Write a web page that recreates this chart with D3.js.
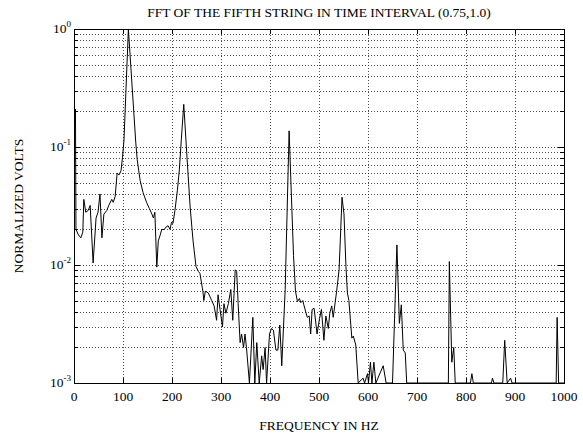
<!DOCTYPE html>
<html>
<head>
<meta charset="UTF-8">
<title>FFT of the fifth string</title>
<script src="https://cdn.jsdelivr.net/npm/d3@7"></script>
<style>
  body { margin: 0; background: #fff; }
  text { font-family: "Liberation Serif", "Times New Roman", serif; fill: #000; }
</style>
</head>
<body>
<div id="app"></div>
<script>
// frequency (Hz) and normalized amplitude; values below 1e-3 sit on the floor
var freq = [3, 4, 9, 14, 18, 20, 24, 29, 33, 39, 45, 49, 53, 57, 61, 67, 71, 77, 80, 84, 88, 92, 96, 99, 102,
  111, 126, 129, 135, 141, 148, 154, 159, 162, 165, 169, 172, 176, 179, 184, 188, 192, 196, 199, 202, 206, 211, 215, 219,
  224, 230, 237, 243, 249, 254, 257, 263, 265, 268, 274, 281, 286, 291, 294, 298, 303, 306, 310, 315, 320, 324, 329, 332, 335,
  339, 342, 346, 349, 352, 358, 365, 369, 373, 378, 383, 386, 390, 393, 399, 403, 407, 412, 416, 420, 424, 431,
  439, 448, 452, 456, 460, 463, 467, 469, 473, 476, 480, 483, 486, 490, 494, 496, 501, 505, 510, 514, 519, 522, 526, 529,
  536, 541, 547, 551, 555, 558, 561, 567, 570, 575, 580, 590, 593, 599, 601, 605, 608, 612, 616, 631, 637, 650,
  659, 664, 668, 672, 676, 679, 764, 766, 771, 775, 778, 809, 812, 815, 852, 854, 857, 875, 879, 884, 891, 894,
  984, 986, 989, 1000];
var volts = [0.21, 0.02, 0.018, 0.017, 0.019, 0.036, 0.028, 0.029, 0.032, 0.0104, 0.025, 0.028, 0.040, 0.017, 0.027, 0.029, 0.032, 0.036, 0.034, 0.038, 0.060, 0.058, 0.063, 0.082, 0.114,
  1.0, 0.11, 0.078, 0.052, 0.041, 0.034, 0.030, 0.027, 0.025, 0.028, 0.0096, 0.016, 0.018, 0.020, 0.020, 0.021, 0.0215, 0.020, 0.023, 0.0225, 0.029, 0.043, 0.064, 0.115,
  0.23, 0.09, 0.031, 0.016, 0.0097, 0.0088, 0.0085, 0.006, 0.005, 0.006, 0.0058, 0.005, 0.0045, 0.0034, 0.0056, 0.0042, 0.003, 0.0047, 0.0039, 0.0047, 0.0062, 0.0034, 0.0091, 0.0088, 0.0047,
  0.0022, 0.0026, 0.0020, 0.0026, 0.0020, 0.0008, 0.0036, 0.0008, 0.0022, 0.0008, 0.0017, 0.0013, 0.0020, 0.0008, 0.0026, 0.0029, 0.0028, 0.0019, 0.0019, 0.0031, 0.0014, 0.0062,
  0.137, 0.012, 0.0060, 0.0049, 0.0052, 0.0048, 0.0050, 0.0046, 0.0040, 0.0036, 0.0037, 0.0026, 0.0042, 0.0043, 0.0031, 0.0026, 0.0035, 0.0042, 0.0023, 0.0037, 0.0029, 0.0039, 0.0045, 0.0036,
  0.0060, 0.0091, 0.0375, 0.027, 0.0097, 0.0058, 0.0050, 0.0024, 0.0025, 0.0021, 0.0008, 0.0011, 0.0008, 0.0012, 0.0008, 0.0015, 0.0008, 0.0015, 0.0008, 0.0014, 0.0008, 0.0008,
  0.0148, 0.0032, 0.0046, 0.0019, 0.0018, 0.0008, 0.0008, 0.0107, 0.0015, 0.0020, 0.0008, 0.0008, 0.0012, 0.0008, 0.0008, 0.0011, 0.0008, 0.0008, 0.0023, 0.0008, 0.0011, 0.0008,
  0.0008, 0.0036, 0.0008, 0.0008];

var xTicks = [0, 100, 200, 300, 400, 500, 600, 700, 800, 900, 1000];
var yDecades = [0, -1, -2, -3];

var W = 583, H = 434;
var m = {left: 74, right: 19, top: 29, bottom: 51};

var svg = d3.select('#app').append('svg')
  .attr('width', W).attr('height', H);

var x = d3.scaleLinear().domain([0, 1000]).range([m.left, W - m.right]);
var y = d3.scaleLog().domain([1e-3, 1]).range([H - m.bottom, m.top]).clamp(true);

// minor log positions 1..9 per decade
var yMinor = [];
[-3, -2, -1].forEach(function(e) {
  for (var k = 1; k <= 9; k++) yMinor.push(k * Math.pow(10, e));
});

var grid = svg.append('g')
  .attr('stroke', '#222').attr('stroke-width', 0.8)
  .attr('stroke-dasharray', '1,2').attr('shape-rendering', 'crispEdges');
grid.selectAll('.gx').data(xTicks.slice(1, -1)).enter().append('line')
  .attr('x1', function(d) { return Math.round(x(d)) + 0.5; })
  .attr('x2', function(d) { return Math.round(x(d)) + 0.5; })
  .attr('y1', m.top).attr('y2', H - m.bottom);
grid.selectAll('.gy').data(yMinor.filter(function(v) { return v > 1e-3; })).enter().append('line')
  .attr('y1', function(d) { return Math.round(y(d)) + 0.5; })
  .attr('y2', function(d) { return Math.round(y(d)) + 0.5; })
  .attr('x1', m.left).attr('x2', W - m.right);

// the FFT trace
var line = d3.line()
  .x(function(d, i) { return x(freq[i]); })
  .y(function(d) { return y(d); });
svg.append('path').datum(volts)
  .attr('d', line)
  .attr('fill', 'none').attr('stroke', '#000').attr('stroke-width', 1);

// axes: ticks pointing inward on all four sides
var ax = svg.append('g').attr('stroke', '#000').attr('stroke-width', 1).attr('shape-rendering', 'crispEdges');
ax.append('rect')
  .attr('x', m.left + 0.5).attr('y', m.top + 0.5)
  .attr('width', W - m.right - m.left).attr('height', H - m.bottom - m.top)
  .attr('fill', 'none');
xTicks.forEach(function(t) {
  var px = Math.round(x(t)) + 0.5;
  ax.append('line').attr('x1', px).attr('x2', px).attr('y1', H - m.bottom).attr('y2', H - m.bottom - 5);
  ax.append('line').attr('x1', px).attr('x2', px).attr('y1', m.top).attr('y2', m.top + 5);
});
yMinor.concat([1]).forEach(function(v) {
  var py = Math.round(y(v)) + 0.5;
  var len = (Math.abs(Math.log10(v) - Math.round(Math.log10(v))) < 1e-9) ? 6 : 4;
  ax.append('line').attr('x1', m.left).attr('x2', m.left + len).attr('y1', py).attr('y2', py);
  ax.append('line').attr('x1', W - m.right).attr('x2', W - m.right - len).attr('y1', py).attr('y2', py);
});

// tick labels
svg.selectAll('.xl').data(xTicks).enter().append('text')
  .attr('x', function(d) { return x(d); })
  .attr('y', H - m.bottom + 18)
  .attr('text-anchor', 'middle').attr('font-size', 13.5)
  .text(function(d) { return d; });

var yl = svg.selectAll('.yl').data(yDecades).enter().append('text')
  .attr('x', m.left - 3)
  .attr('y', function(d) { return y(Math.pow(10, d)) + 4; })
  .attr('text-anchor', 'end').attr('font-size', 13.5);
yl.append('tspan').text('10');
yl.append('tspan').attr('dy', -6).attr('font-size', 9)
  .text(function(d) { return d; });

// titles
svg.append('text')
  .attr('x', (m.left + W - m.right) / 2).attr('y', 17)
  .attr('text-anchor', 'middle').attr('font-size', 13.5)
  .text('FFT OF THE FIFTH STRING IN TIME INTERVAL (0.75,1.0)');
svg.append('text')
  .attr('x', (m.left + W - m.right) / 2).attr('y', 430)
  .attr('text-anchor', 'middle').attr('font-size', 13.5)
  .text('FREQUENCY IN HZ');
svg.append('text')
  .attr('transform', 'translate(23,' + (m.top + H - m.bottom) / 2 + ') rotate(-90)')
  .attr('text-anchor', 'middle').attr('font-size', 13.5)
  .text('NORMALIZED VOLTS');
</script>
</body>
</html>
